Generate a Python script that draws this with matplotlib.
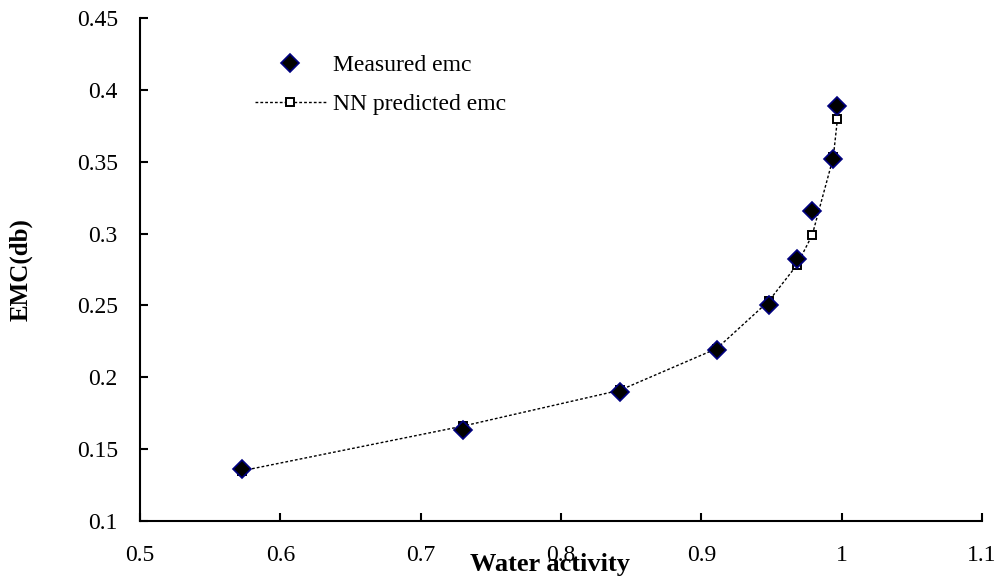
import matplotlib.pyplot as plt

# water activity values
aw = [0.573, 0.730, 0.842, 0.911, 0.948, 0.968, 0.979, 0.994, 0.997]
# measured emc (dry basis)
emc_measured = [0.136, 0.163, 0.190, 0.219, 0.250, 0.282, 0.316, 0.352, 0.389]
# neural network predicted emc
emc_predicted = [0.135, 0.166, 0.191, 0.220, 0.253, 0.278, 0.299, 0.353, 0.380]

plt.rcParams['font.family'] = ['Liberation Serif', 'DejaVu Serif']

fig = plt.figure(figsize=(9.98, 5.81), dpi=100)
ax = fig.add_axes([0.1403, 0.1033, 0.8437, 0.8657])

# predicted line under, measured diamonds on top
ax.plot(aw, emc_predicted, color='black', linestyle=(0, (2.0, 1.5)), linewidth=1.0,
        marker='s', markersize=6, markerfacecolor='white', markeredgecolor='black',
        markeredgewidth=1.4, label='NN predicted emc', zorder=2)
ax.plot(aw, emc_measured, linestyle='none', marker='D', markersize=9,
        markerfacecolor='black', markeredgecolor='#000080', markeredgewidth=1.2,
        label='Measured emc', zorder=3)

ax.set_xlim(0.5, 1.1)
ax.set_ylim(0.1, 0.45)
ax.set_xticks([0.5, 0.6, 0.7, 0.8, 0.9, 1.0, 1.1])
ax.set_xticklabels(['0.5', '0.6', '0.7', '0.8', '0.9', '1', '1.1'])
ax.set_yticks([0.1, 0.15, 0.2, 0.25, 0.3, 0.35, 0.4, 0.45])
ax.set_yticklabels(['0.1', '0.15', '0.2', '0.25', '0.3', '0.35', '0.4', '0.45'])

for s in ['top', 'right']:
    ax.spines[s].set_visible(False)
for s in ['left', 'bottom']:
    ax.spines[s].set_linewidth(1.5)

ax.tick_params(axis='both', direction='in', length=6, width=1.5, labelsize=17)
ax.tick_params(axis='x', pad=17)
ax.tick_params(axis='y', pad=16)

# label sits over the tick labels, as in the original
ax.set_xlabel('Water activity', fontsize=19, fontweight='bold')
ax.xaxis.set_label_coords(0.487, -0.064)
ax.set_ylabel('EMC(db)', fontsize=18, fontweight='bold')
ax.yaxis.set_label_coords(-0.128, 0.5)

handles, labels = ax.get_legend_handles_labels()
ax.legend(handles[::-1], labels[::-1], loc='upper left', bbox_to_anchor=(0.111, 0.97),
          frameon=False, fontsize=17, handlelength=3.0, handletextpad=0.3,
          labelspacing=0.75)

fig.savefig('out.png', dpi=100)
